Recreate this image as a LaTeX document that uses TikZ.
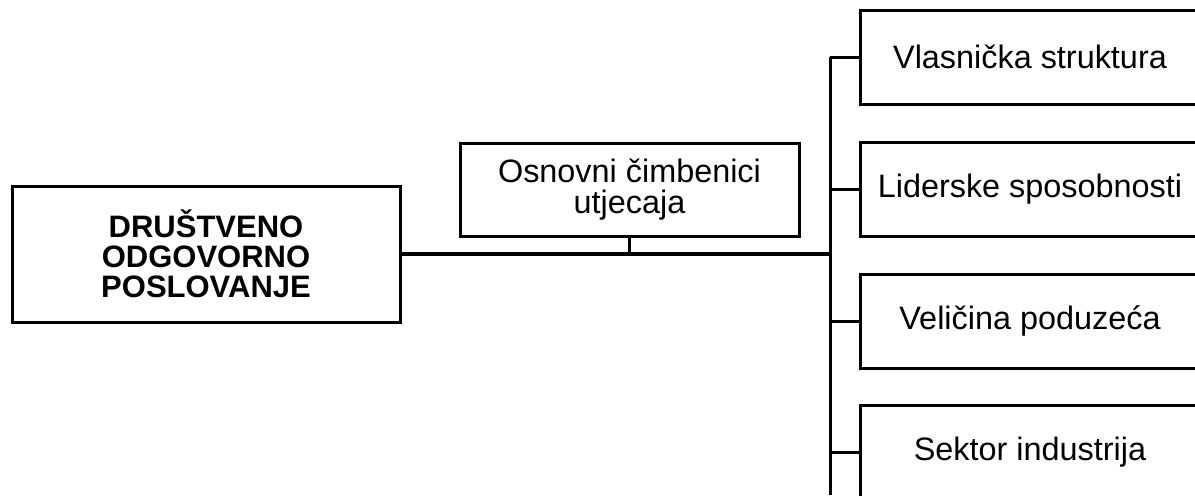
\documentclass[tikz,border=0pt]{standalone}
\usepackage{fontspec}
\setmainfont{Liberation Sans}
\usepackage{tikz}

\begin{document}
\begin{tikzpicture}[x=0.5pt,y=-0.5pt,line width=1.5pt,align=center]
\tikzstyle{obj} = [font=\fontsize{16.2}{15.5}\selectfont,rectangle,draw,align=center, inner sep=0pt]
\tikzstyle{item} = [obj, minimum width=170pt, minimum height=47pt]
\useasboundingbox (0,0) rectangle (1195,495);
\clip (0,0) rectangle (1195,495);
\node[obj, minimum width=194pt, minimum height=68pt, font=\fontsize{15.5}{15}\selectfont\bfseries] (dop) at (206,254) {DRUŠTVENO\\ODGOVORNO\\POSLOVANJE};
\node[obj, minimum width=169.5pt, minimum height=46.5pt] (osn) at (629.5,189.5) {Osnovni čimbenici\\utjecaja};
\node[item] (vlas) at (1030,57) {Vlasnička struktura};
\node[item] (lid) at (1030,189.5) {Liderske sposobnosti};
\node[item] (vel) at (1030,321) {Veličina poduzeća};
\node[item] (sek) at (1030,452) {Sektor industrija};
\coordinate (bus) at (830,254);
\coordinate (busend) at (830,495);
\draw[line width=2pt] (dop) -- (bus);
\draw (osn) -- (osn |- bus);
\draw (bus |- vlas) -- (busend);
\foreach \n in {vlas,lid,vel,sek}
  \draw (bus |- \n) -- (\n);
\end{tikzpicture}
\end{document}
